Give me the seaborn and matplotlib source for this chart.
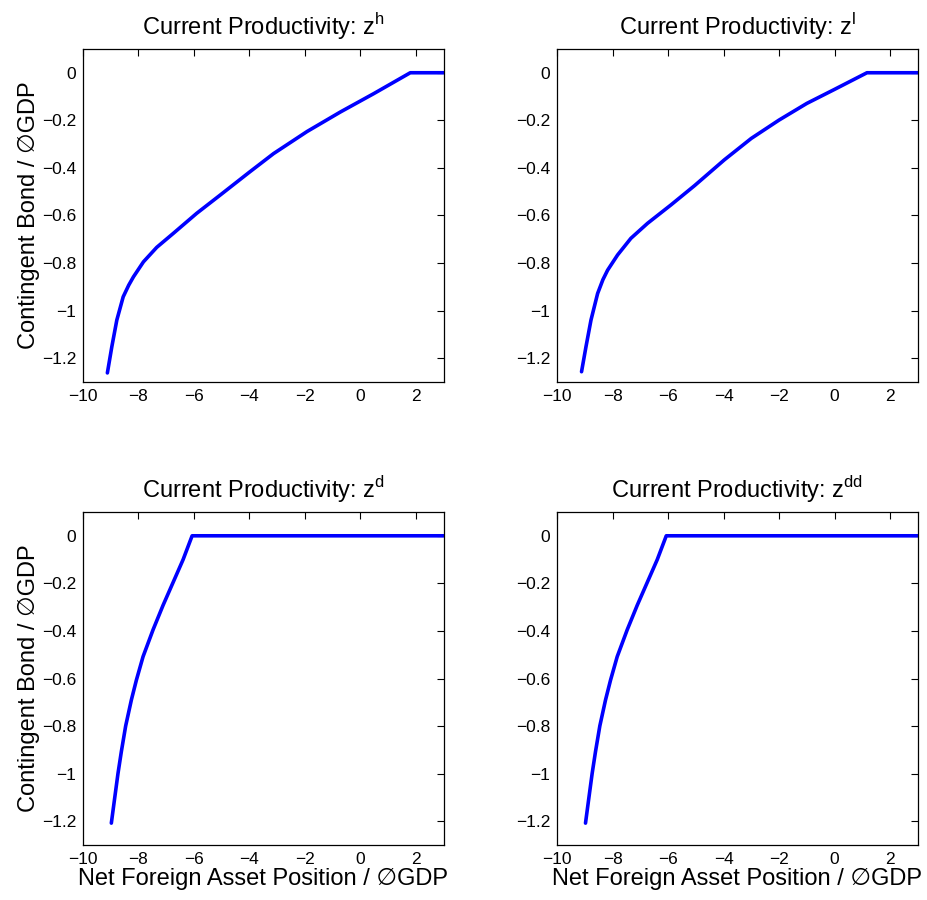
import numpy as np
import pandas as pd
import matplotlib
matplotlib.use("Agg")
import matplotlib.pyplot as plt
from matplotlib.ticker import FuncFormatter
import seaborn as sns

# ---- data ----
titles = ["Current Productivity: z$^{\\mathregular{h}}$", "Current Productivity: z$^{\\mathregular{l}}$",
          "Current Productivity: z$^{\\mathregular{d}}$", "Current Productivity: z$^{\\mathregular{dd}}$"]

x_h = [-9.12, -8.96, -8.78, -8.55, -8.35, -8.18, -7.82, -7.34, -6.74, -5.90, -5.05, -4.0,
       -3.13, -1.92, -0.72, 0.48, 1.80, 3.0]
y_h = [-1.262, -1.152, -1.040, -0.942, -0.893, -0.858, -0.795, -0.734, -0.675, -0.591, -0.514,
       -0.418, -0.340, -0.247, -0.165, -0.088, 0.0, 0.0]

x_l = [-9.12, -8.96, -8.78, -8.54, -8.35, -8.18, -7.82, -7.34, -6.74, -5.90, -5.05, -3.97,
       -3.0, -2.0, -1.0, 0.0, 1.17, 3.0]
y_l = [-1.257, -1.152, -1.040, -0.928, -0.870, -0.830, -0.766, -0.696, -0.633, -0.556, -0.475,
       -0.366, -0.276, -0.199, -0.129, -0.070, 0.0, 0.0]

x_d = [-8.977, -8.857, -8.736, -8.616, -8.460, -8.255, -8.075, -7.834, -7.473, -7.112, -6.751,
       -6.390, -6.065, 3.0]
y_d = [-1.208, -1.103, -0.998, -0.907, -0.799, -0.690, -0.607, -0.508, -0.395, -0.292, -0.196,
       -0.100, 0.0, 0.0]

x_dd = [-8.977, -8.857, -8.736, -8.616, -8.460, -8.255, -8.075, -7.834, -7.473, -7.112, -6.751,
        -6.390, -6.065, 3.0]
y_dd = [-1.208, -1.103, -0.998, -0.907, -0.799, -0.690, -0.607, -0.508, -0.395, -0.292, -0.196,
        -0.100, 0.0, 0.0]

x_ticks = [-10, -8, -6, -4, -2, 0, 2]
y_ticks = [0, -0.2, -0.4, -0.6, -0.8, -1, -1.2]
x_label = "Net Foreign Asset Position / \u2205GDP"
y_label = "Contingent Bond / \u2205GDP"

series = [(x_h, y_h), (x_l, y_l), (x_d, y_d), (x_dd, y_dd)]

sns.set_style("white")
plt.rcParams['font.family'] = ['Liberation Sans', 'DejaVu Sans']
plt.rcParams['mathtext.fontset'] = 'custom'
plt.rcParams['mathtext.rm'] = 'Liberation Sans'
plt.rcParams['text.color'] = 'black'
plt.rcParams['axes.labelcolor'] = 'black'
plt.rcParams['xtick.color'] = 'black'
plt.rcParams['ytick.color'] = 'black'

fig = plt.figure(figsize=(9.27, 9.0), dpi=100)
lefts = [0.0895, 0.601]
bottoms = [0.5756, 0.0611]
w = 0.389
h = 0.370

def fmt(v, pos):
    s = ("%g" % v)
    return s.replace("-", "\u2212")

for i, (xs, ys) in enumerate(series):
    r, c = divmod(i, 2)
    ax = fig.add_axes([lefts[c], bottoms[r], w, h])
    df = pd.DataFrame({"x": xs, "y": ys})
    sns.lineplot(data=df, x="x", y="y", ax=ax, color=(0, 0, 1), linewidth=2.6,
                 estimator=None, sort=False)
    ax.set_xlim(-10, 3)
    ax.set_ylim(-1.3, 0.1)
    ax.set_xticks(x_ticks)
    ax.set_yticks(y_ticks)
    ax.xaxis.set_major_formatter(FuncFormatter(fmt))
    ax.yaxis.set_major_formatter(FuncFormatter(fmt))
    ax.tick_params(direction='in', length=5, width=0.8, labelsize=12.5, pad=5,
                   top=True, right=True, colors='black', labelcolor='black')
    for sp in ax.spines.values():
        sp.set_visible(True)
        sp.set_color('black')
        sp.set_linewidth(0.9)
    ax.set_title(titles[i], fontsize=17, pad=10, color='black')
    ax.set_xlabel(x_label if r == 1 else "", fontsize=17, labelpad=1, color='black')
    ax.set_ylabel(y_label if c == 0 else "", fontsize=17, labelpad=1.5, color='black')
    ax.grid(False)

fig.savefig("out.png", dpi=100, facecolor='white')
